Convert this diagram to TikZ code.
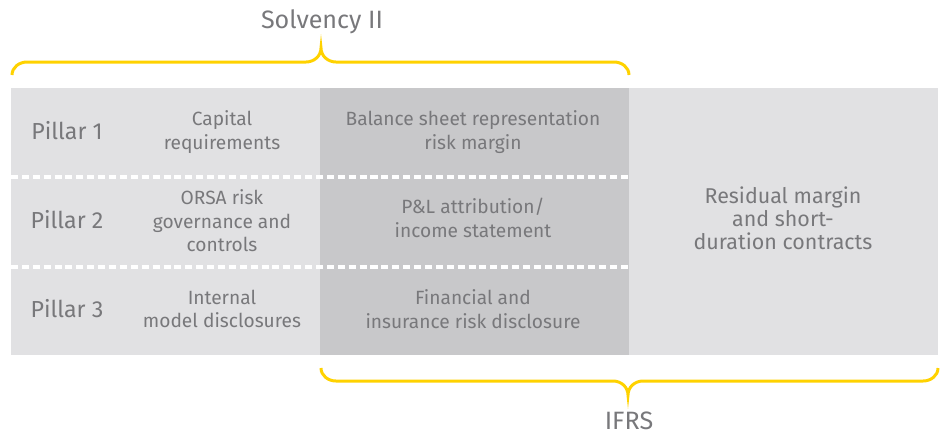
\documentclass[tikz,border=0pt]{standalone}
\usepackage{fontspec}
\setmainfont{Fira Sans}
\usetikzlibrary{positioning}
\definecolor{eyyellow}{HTML}{FFD200}
\definecolor{lightpanel}{HTML}{E1E1E3}
\definecolor{darkpanel}{HTML}{C8C8CA}
\definecolor{labelgrey}{HTML}{78787B}

\begin{document}
\begin{tikzpicture}[x=0.02cm,y=-0.02cm,
	pillar/.style={text=labelgrey,font=\fontsize{13.2}{15}\selectfont},
	celltext/.style={text=labelgrey,align=center,font=\fontsize{10.9}{13.4}\selectfont},
	bigcell/.style={celltext,font=\fontsize{12.2}{13.2}\selectfont},
	bracelabel/.style={text=labelgrey,font=\fontsize{14.3}{16}\selectfont},
	brace/.style={draw=eyyellow,line width=1.7pt},
	divider/.style={draw=white,line width=1.9pt,dash pattern=on 4pt off 2.2pt}]
	\useasboundingbox (0,0) rectangle (944,434);
	% panels
	\fill[lightpanel] (11,88) rectangle (938,355);
	\fill[darkpanel] (320,88) rectangle (629,355);
	\draw[divider] (11,177) -- (629,177);
	\draw[divider] (11,267) -- (629,267);
	% braces
	\draw[brace] (12,75) to[out=90,in=180] (27,62) -- (306,62)
		to[out=0,in=-90] (321,48) to[out=-90,in=180] (336,62) -- (614,62)
		to[out=0,in=90] (629,75);
	\draw[brace] (321,368) to[out=-90,in=180] (336,381) -- (613,381)
		to[out=0,in=90] (628,395) to[out=90,in=180] (643,381) -- (923,381)
		to[out=0,in=-90] (938,368);
	\node[bracelabel] (solvency) at (322,22) {Solvency II};
	\node[bracelabel] (ifrs) at (629,421) {IFRS};
	% rows
	\node[pillar] (p1) at (67,131) {Pillar 1};
	\node[pillar] (p2) at (67,220) {Pillar 2};
	\node[pillar] (p3) at (67,309) {Pillar 3};
	\node[celltext] (cap) at (222,132) {Capital\\requirements};
	\node[celltext] (orsa) at (222,221) {ORSA risk\\governance and\\controls};
	\node[celltext] (model) at (222,309) {Internal\\model disclosures};
	\node[celltext] (balance) at (473,132) {Balance sheet representation\\risk margin};
	\node[celltext] (pnl) at (473,218) {P\&L attribution/\\income statement};
	\node[celltext] (fin) at (473,309) {Financial and\\insurance risk disclosure};
	\node[bigcell] (residual) at (783,218) {Residual margin\\and short-\\duration contracts};
\end{tikzpicture}
\end{document}
